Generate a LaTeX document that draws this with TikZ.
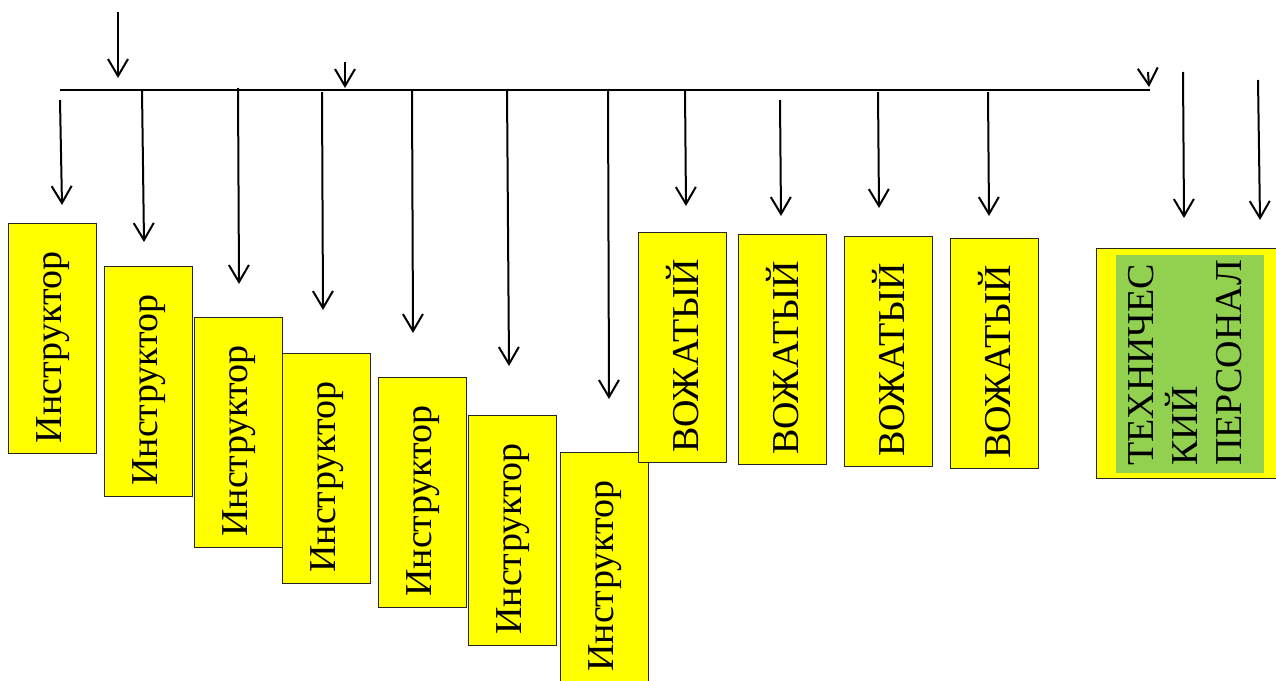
\documentclass[tikz,border=0pt]{standalone}
\usepackage{fontspec}
\setmainfont{Liberation Serif}
\usetikzlibrary{arrows.meta}
\definecolor{byel}{HTML}{FFFF00}
\definecolor{bgrn}{HTML}{92D050}
\tikzset{
  box/.style={draw=black!85, line width=1pt, fill=byel, minimum width=88pt, minimum height=230pt, inner sep=0pt},
  lbl/.style={rotate=90, font=\fontsize{38}{44}\selectfont, inner sep=0pt},
  arr/.style={line width=2pt, -{Straight Barb[length=17pt,width=20pt,line width=2pt]}},
  bus/.style={line width=2pt}
}
\begin{document}
\begin{tikzpicture}[x=1pt,y=-1pt]
\useasboundingbox (0,0) rectangle (1276,680);
% boxes
\node[box] (b1) at (52,338.5) {};
\node[lbl] at ([xshift=1pt,yshift=-9pt]b1.center) {Инструктор};
\node[box] (b2) at (148,381) {};
\node[lbl] at ([xshift=1pt,yshift=-9pt]b2.center) {Инструктор};
\node[box] (b3) at (238,432) {};
\node[lbl] at ([xshift=1pt,yshift=-9pt]b3.center) {Инструктор};
\node[box] (b4) at (326,468) {};
\node[lbl] at ([xshift=1pt,yshift=-9pt]b4.center) {Инструктор};
\node[box] (b5) at (422,492) {};
\node[lbl] at ([xshift=1pt,yshift=-9pt]b5.center) {Инструктор};
\node[box] (b6) at (512,530) {};
\node[lbl] at ([xshift=1pt,yshift=-9pt]b6.center) {Инструктор};
\node[box] (b7) at (604,567) {};
\node[lbl] at ([xshift=1pt,yshift=-9pt]b7.center) {Инструктор};
\node[box] (b8) at (682,347) {};
\node[lbl] at ([xshift=1pt,yshift=-9pt]b8.center) {ВОЖАТЫЙ};
\node[box] (b9) at (782,349) {};
\node[lbl] at ([xshift=1pt,yshift=-9pt]b9.center) {ВОЖАТЫЙ};
\node[box] (b10) at (888,351) {};
\node[lbl] at ([xshift=1pt,yshift=-9pt]b10.center) {ВОЖАТЫЙ};
\node[box] (b11) at (994,353) {};
\node[lbl] at ([xshift=1pt,yshift=-9pt]b11.center) {ВОЖАТЫЙ};
% technical staff
\node[box, minimum width=180pt] (b12) at (1186,363) {};
\node[fill=bgrn, minimum width=148pt, minimum height=218pt, inner sep=0pt] (g12) at (1190,364) {};
\node[lbl, align=left, anchor=west] (t12) at (1185,466) {ТЕХНИЧЕС\\КИЙ\\ПЕРСОНАЛ};
% bus line
\coordinate (busL) at (60,90);
\coordinate (busR) at (1150,90);
\draw[bus] (busL) -- (busR);
% top arrows
\coordinate (in1) at (118,12); \coordinate (in1t) at (118,78);
\draw[arr] (in1) -- (in1t);
\coordinate (in2) at (345,62); \coordinate (in2t) at (345,88);
\draw[arr] (in2) -- (in2t);
\coordinate (in3) at (1148,72); \coordinate (in3t) at (1149,87);
\draw[arr] (in3) -- (in3t);
% arrows to boxes
\coordinate (s1) at (60,100);  \coordinate (e1) at (62,205);
\coordinate (s2) at (142,90);  \coordinate (e2) at (144,242);
\coordinate (s3) at (238,88);  \coordinate (e3) at (239,284);
\coordinate (s4) at (322,92);  \coordinate (e4) at (323,310);
\coordinate (s5) at (412,90);  \coordinate (e5) at (413,333);
\coordinate (s6) at (507,89);  \coordinate (e6) at (509,366);
\coordinate (s7) at (608,89);  \coordinate (e7) at (609,399);
\coordinate (s8) at (685,90);  \coordinate (e8) at (686,206);
\coordinate (s9) at (780,100); \coordinate (e9) at (781,216);
\coordinate (s10) at (878,92); \coordinate (e10) at (879,208);
\coordinate (s11) at (988,92); \coordinate (e11) at (989,216);
\coordinate (s12) at (1183,72); \coordinate (e12) at (1184,218);
\coordinate (s13) at (1258,80); \coordinate (e13) at (1260,220);
\foreach \i in {1,...,13} { \draw[arr] (s\i) -- (e\i); }
\end{tikzpicture}
\end{document}
